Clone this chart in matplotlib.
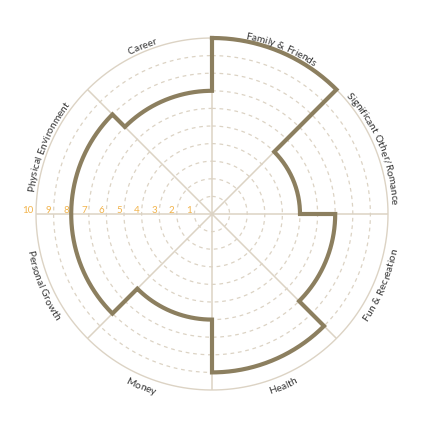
import numpy as np
import matplotlib
matplotlib.use("Agg")
import matplotlib.pyplot as plt

# Wheel of life scores, clockwise from the top
categories = ["Family & Friends", "Significant Other/Romance", "Fun & Recreation",
              "Health", "Money", "Personal Growth", "Physical Environment", "Career"]
scores = [10, 5, 7, 9, 6, 8, 8, 7]
ring_labels = list(range(1, 11))

LINE_COLOR = "#8c7f5f"
GRID_COLOR = "#dcd3c4"
NUM_COLOR = "#f2b34a"
TEXT_COLOR = "#333333"
W, H = 438, 435
CX, CY, RAD = 212, 220, 176  # centre / radius in px (y from bottom)
FS = 7.3

fig = plt.figure(figsize=(W / 100, H / 100), dpi=100)
ax = fig.add_axes([(CX - RAD) / W, (CY - RAD) / H, 2 * RAD / W, 2 * RAD / H],
                  projection="polar")
ax.set_theta_zero_location("N")
ax.set_theta_direction(-1)
ax.set_ylim(0, 10)
ax.axis("off")

# rings
th = np.linspace(0, 2 * np.pi, 400)
for r in ring_labels[:-1]:
    ax.plot(th, np.full_like(th, r), color=GRID_COLOR, lw=0.9, ls=(0, (3, 3)), zorder=1)
ax.plot(th, np.full_like(th, 10), color=GRID_COLOR, lw=1.0, zorder=1, clip_on=False)

# spokes
n = len(categories)
for k in range(n):
    a = 2 * np.pi * k / n
    ax.plot([a, a], [0, 10], color=GRID_COLOR, lw=1.1, zorder=1)

# stepped score line
seg = 2 * np.pi / n
thetas, radii = [], []
for k, s in enumerate(scores):
    t = np.linspace(k * seg, (k + 1) * seg, 60)
    thetas.extend(t)
    radii.extend([s] * len(t))
thetas.append(thetas[0])
radii.append(radii[0])
ax.plot(thetas, radii, color=LINE_COLOR, lw=3.0, solid_joinstyle="miter",
        zorder=3, clip_on=False)

# ring numbers along the left spoke
for r in ring_labels:
    ax.text(1.5 * np.pi, r + 0.12, str(r), color=NUM_COLOR, fontsize=7,
            family="Lato", ha="right", va="bottom", zorder=4)

# curved category labels
renderer = fig.canvas.get_renderer()


def text_width(s):
    t = fig.text(0, 0, s + "|", fontsize=FS, family="Lato")
    w = t.get_window_extent(renderer).width
    t.remove()
    t = fig.text(0, 0, "|", fontsize=FS, family="Lato")
    w -= t.get_window_extent(renderer).width
    t.remove()
    return w


for k, label in enumerate(categories):
    mid = (k + 0.5) * 360 / n
    upper = mid < 90 or mid > 270
    R = 182 if upper else 186
    total = text_width(label)
    for i, ch in enumerate(label):
        c = (text_width(label[:i]) + text_width(label[:i + 1])) / 2 - total / 2
        dphi = np.degrees(c / R)
        phi = mid + dphi if upper else mid - dphi
        rot = -phi if upper else 180 - phi
        x = CX + R * np.sin(np.radians(phi))
        y = CY + R * np.cos(np.radians(phi))
        fig.text(x / W, y / H, ch, fontsize=FS, family="Lato", color=TEXT_COLOR,
                 rotation=rot, rotation_mode="anchor", ha="center", va="center")

fig.savefig("out.png", dpi=100, facecolor="white")
